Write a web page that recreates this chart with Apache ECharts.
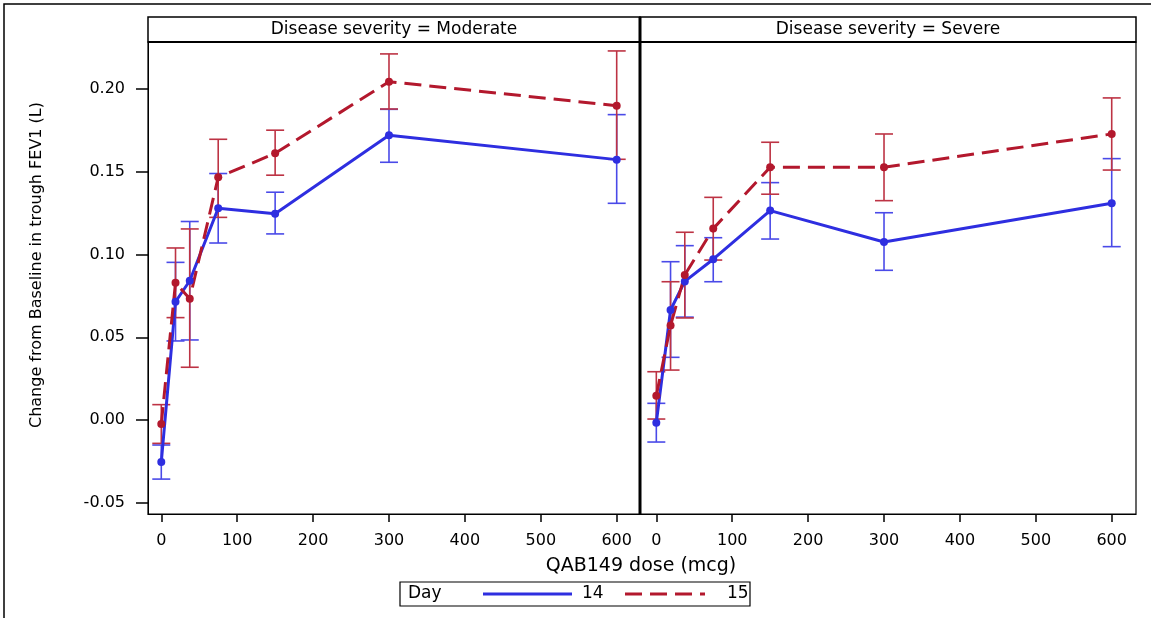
<!DOCTYPE html>
<html>
<head>
<meta charset="utf-8">
<script src="https://cdn.jsdelivr.net/npm/echarts@6/dist/echarts.min.js"></script>
<style>html,body{margin:0;padding:0;background:#fff}#c{width:1151px;height:618px}</style>
</head>
<body>
<div id="c"></div>
<script>
const doses = [0, 18.75, 37.5, 75, 150, 300, 600];
const xTicks = [0, 100, 200, 300, 400, 500, 600];
const yTicks = [-0.05, 0, 0.05, 0.10, 0.15, 0.20];
const panels = ['Disease severity = Moderate', 'Disease severity = Severe'];
const days = ['14', '15'];

const modD14Mean = [-0.0254, 0.0715, 0.0842, 0.128, 0.1247, 0.1721, 0.1574];
const modD14Low  = [-0.0357, 0.0478, 0.0484, 0.107, 0.1125, 0.1558, 0.131];
const modD14High = [-0.0151, 0.0953, 0.12, 0.149, 0.1377, 0.1878, 0.1846];
const modD15Mean = [-0.0024, 0.083, 0.0733, 0.1467, 0.1612, 0.2045, 0.19];
const modD15Low  = [-0.0141, 0.0619, 0.0319, 0.1225, 0.148, 0.188, 0.1576];
const modD15High = [0.0093, 0.104, 0.1155, 0.1697, 0.1752, 0.2213, 0.2231];

const sevD14Mean = [-0.0016, 0.0665, 0.0838, 0.0972, 0.1266, 0.1076, 0.131];
const sevD14Low  = [-0.0133, 0.0379, 0.0622, 0.0836, 0.1094, 0.0905, 0.1048];
const sevD14High = [0.0101, 0.0957, 0.1054, 0.1102, 0.1435, 0.1253, 0.158];
const sevD15Mean = [0.0147, 0.0572, 0.0877, 0.1157, 0.1528, 0.1528, 0.1729];
const sevD15Low  = [0.0006, 0.0302, 0.0617, 0.0967, 0.1365, 0.1326, 0.1511];
const sevD15High = [0.0292, 0.0836, 0.1135, 0.1346, 0.1679, 0.1729, 0.1947];

const BLUE = '#2e2ee0';
const BLUE_ERR = '#4a4ae8';
const RED = '#b3182d';
const RED_ERR = '#bd3344';
const FONT = 'DejaVu Sans';

const chart = echarts.init(document.getElementById('c'), null, {renderer: 'canvas'});

function pts(means) { return doses.map((d, i) => [d, means[i]]); }
function errPts(low, high) { return doses.map((d, i) => [d, low[i], high[i]]); }

function errSeries(idx, low, high, color, name) {
  return {
    type: 'custom', name: name, xAxisIndex: idx, yAxisIndex: idx, z: 2,
    data: errPts(low, high),
    encode: {x: 0, y: [1, 2]},
    renderItem: function (params, api) {
      const x = api.value(0);
      const lo = api.coord([x, api.value(1)]);
      const hi = api.coord([x, api.value(2)]);
      const hw = 9;
      const style = {stroke: color, lineWidth: 1.6, fill: null};
      return {type: 'group', children: [
        {type: 'line', shape: {x1: lo[0], y1: lo[1], x2: hi[0], y2: hi[1]}, style: style},
        {type: 'line', shape: {x1: lo[0] - hw, y1: lo[1], x2: lo[0] + hw, y2: lo[1]}, style: style},
        {type: 'line', shape: {x1: hi[0] - hw, y1: hi[1], x2: hi[0] + hw, y2: hi[1]}, style: style}
      ]};
    }
  };
}
function lineSeries(idx, means, color, dashed, name) {
  return {
    type: 'line', name: name, xAxisIndex: idx, yAxisIndex: idx, z: 3,
    data: pts(means), symbol: 'circle', symbolSize: 8,
    itemStyle: {color: color},
    lineStyle: {color: color, width: 3, type: dashed ? [17, 8] : 'solid'},
    animation: false
  };
}

const gridTop = 42, gridH = 472;
const grids = [
  {left: 148, top: gridTop, width: 492, height: gridH},
  {left: 640, top: gridTop, width: 496, height: gridH}
];
const xRanges = [[-17.5, 630.7], [-21.5, 632]];

const xAxes = grids.map((g, i) => ({
  type: 'value', gridIndex: i, min: xRanges[i][0], max: xRanges[i][1],
  splitLine: {show: false},
  axisLine: {show: true, onZero: false, lineStyle: {color: '#000', width: 1}},
  axisTick: {show: true, length: 8, lineStyle: {color: '#000', width: 1.5}, customValues: xTicks},
  axisLabel: {customValues: xTicks, margin: 19, color: '#000', fontFamily: FONT, fontSize: 16,
              formatter: v => String(v)}
}));
const yAxes = grids.map((g, i) => ({
  type: 'value', gridIndex: i, min: -0.0568, max: 0.2285,
  splitLine: {show: false},
  axisLine: {show: true, onZero: false, lineStyle: {color: '#000', width: 1}},
  axisTick: {show: i === 0, length: 12, lineStyle: {color: '#000', width: 1.5}, customValues: yTicks},
  axisLabel: {show: i === 0, customValues: yTicks, margin: 23, color: '#000', fontFamily: FONT, fontSize: 16,
              formatter: v => v.toFixed(2)}
}));

const graphics = [
  {type: 'rect', shape: {x: 4, y: 4, width: 1200, height: 700}, style: {fill: null, stroke: '#000', lineWidth: 1.5}, z: 100, silent: true},
  // headers
  {type: 'rect', shape: {x: 148, y: 17, width: 492, height: 25}, style: {fill: '#fff', stroke: '#000', lineWidth: 1.5}, z: 50},
  {type: 'rect', shape: {x: 640, y: 17, width: 496, height: 25}, style: {fill: '#fff', stroke: '#000', lineWidth: 1.5}, z: 50},
  {type: 'line', shape: {x1: 148, y1: 42, x2: 1136, y2: 42}, style: {stroke: '#000', lineWidth: 2}, z: 60},
  {type: 'text', x: 394, y: 30, style: {text: panels[0], font: '17px "' + FONT + '"', fill: '#000', align: 'center', verticalAlign: 'middle'}, z: 61},
  {type: 'text', x: 888, y: 30, style: {text: panels[1], font: '17px "' + FONT + '"', fill: '#000', align: 'center', verticalAlign: 'middle'}, z: 61},
  // divider
  {type: 'line', shape: {x1: 640, y1: 17, x2: 640, y2: 514}, style: {stroke: '#000', lineWidth: 3}, z: 60},
  // plot frames
  {type: 'rect', shape: {x: 148, y: 42, width: 492, height: 472}, style: {fill: null, stroke: '#000', lineWidth: 1.2}, z: 55},
  {type: 'rect', shape: {x: 640, y: 42, width: 496, height: 472}, style: {fill: null, stroke: '#000', lineWidth: 1.2}, z: 55},
  // axis titles
  {type: 'text', x: 37, y: 265, rotation: Math.PI / 2, style: {text: 'Change from Baseline in trough FEV1 (L)', font: '16px "' + FONT + '"', fill: '#000', align: 'center', verticalAlign: 'middle'}, z: 61},
  {type: 'text', x: 641, y: 566, style: {text: 'QAB149 dose (mcg)', font: '19px "' + FONT + '"', fill: '#000', align: 'center', verticalAlign: 'middle'}, z: 61},
  // legend
  {type: 'rect', shape: {x: 400, y: 582, width: 350, height: 24}, style: {fill: '#fff', stroke: '#000', lineWidth: 1.2}, z: 50},
  {type: 'text', x: 408, y: 594, style: {text: 'Day', font: '17px "' + FONT + '"', fill: '#000', align: 'left', verticalAlign: 'middle'}, z: 61},
  {type: 'line', shape: {x1: 483, y1: 594, x2: 572, y2: 594}, style: {stroke: BLUE, lineWidth: 3}, z: 61},
  {type: 'text', x: 582, y: 594, style: {text: days[0], font: '17px "' + FONT + '"', fill: '#000', align: 'left', verticalAlign: 'middle'}, z: 61},
  {type: 'line', shape: {x1: 625, y1: 594, x2: 705, y2: 594}, style: {stroke: RED, lineWidth: 3, lineDash: [17, 8]}, z: 61},
  {type: 'text', x: 727, y: 594, style: {text: days[1], font: '17px "' + FONT + '"', fill: '#000', align: 'left', verticalAlign: 'middle'}, z: 61}
];

chart.setOption({
  animation: false,
  backgroundColor: '#fff',
  grid: grids,
  xAxis: xAxes,
  yAxis: yAxes,
  series: [
    errSeries(0, modD14Low, modD14High, BLUE_ERR, '14'),
    errSeries(0, modD15Low, modD15High, RED_ERR, '15'),
    lineSeries(0, modD14Mean, BLUE, false, '14'),
    lineSeries(0, modD15Mean, RED, true, '15'),
    errSeries(1, sevD14Low, sevD14High, BLUE_ERR, '14'),
    errSeries(1, sevD15Low, sevD15High, RED_ERR, '15'),
    lineSeries(1, sevD14Mean, BLUE, false, '14'),
    lineSeries(1, sevD15Mean, RED, true, '15')
  ],
  graphic: graphics
});
</script>
</body>
</html>
